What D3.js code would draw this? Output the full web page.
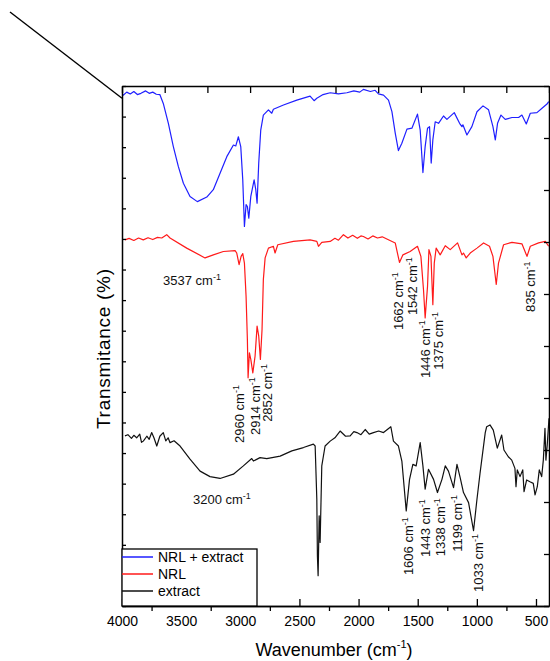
<!DOCTYPE html>
<html>
<head>
<meta charset="utf-8">
<script src="https://cdn.jsdelivr.net/npm/d3@7"></script>
<style>
  body { margin: 0; background: #fff; }
  svg { display: block; font-family: Arial, "Liberation Sans", sans-serif; }
</style>
</head>
<body>
<svg id="chart" width="550" height="661"></svg>
<script>
// FTIR spectra, [wavenumber cm-1, transmittance (offset, arbitrary units)]
const nrlExtract = [
  [4000, 16.74], [3990, 16.70], [3960, 16.80], [3930, 16.74], [3900, 16.82], [3870, 16.72],
  [3840, 16.76], [3800, 16.84], [3770, 16.76], [3740, 16.80], [3710, 16.73], [3680, 16.72],
  [3651, 16.43], [3608, 15.78], [3566, 15.02], [3524, 14.37], [3481, 13.82], [3425, 13.39],
  [3363, 13.22], [3283, 13.37], [3228, 13.61], [3171, 14.15], [3114, 14.69], [3058, 15.07],
  [3038, 15.04], [3016, 15.34], [2996, 15.02], [2979, 13.93], [2965, 12.41], [2951, 13.12],
  [2940, 13.06], [2928, 12.68], [2911, 13.39], [2883, 13.93], [2869, 13.61], [2858, 13.17],
  [2844, 14.48], [2827, 15.56], [2805, 16.05], [2762, 16.22], [2734, 16.11], [2720, 16.24],
  [2635, 16.38], [2522, 16.54], [2410, 16.67], [2376, 16.52], [2353, 16.60], [2300, 16.72],
  [2240, 16.78], [2170, 16.74], [2099, 16.78], [2040, 16.84], [1990, 16.80], [1959, 16.89],
  [1900, 16.82], [1860, 16.86], [1832, 16.74], [1789, 16.70], [1747, 16.54], [1718, 16.16],
  [1690, 15.46], [1663, 14.89], [1634, 15.13], [1591, 15.59], [1549, 15.62], [1502, 16.08],
  [1479, 15.56], [1456, 14.17], [1437, 15.02], [1417, 15.62], [1400, 15.67], [1386, 14.48],
  [1372, 15.24], [1352, 15.83], [1324, 15.78], [1282, 16.02], [1253, 15.91], [1191, 16.13],
  [1146, 15.78], [1126, 15.67], [1118, 15.73], [1084, 15.40], [1042, 15.67], [999, 16.16],
  [948, 16.35], [901, 16.22], [864, 15.67], [844, 15.24], [825, 15.78], [796, 16.05],
  [760, 15.91], [703, 15.97], [647, 15.97], [619, 16.05], [582, 15.76], [548, 16.11],
  [492, 16.13], [449, 16.27], [407, 16.41], [393, 16.49]
];

const nrl = [
  [3975, 11.97], [3940, 12.02], [3900, 11.95], [3860, 12.03], [3820, 11.97], [3780, 12.04],
  [3740, 11.98], [3700, 12.05], [3664, 12.03], [3622, 12.14], [3594, 12.03], [3453, 11.70],
  [3298, 11.38], [3228, 11.48], [3143, 11.59], [3044, 11.62], [3030, 11.54], [3010, 11.16],
  [2993, 11.43], [2979, 11.52], [2965, 11.21], [2951, 10.12], [2940, 8.71], [2934, 7.46],
  [2923, 8.28], [2911, 8.06], [2894, 7.62], [2875, 8.17], [2858, 9.15], [2844, 8.82],
  [2830, 8.06], [2816, 9.04], [2805, 10.67], [2790, 11.38], [2762, 11.70], [2720, 11.76],
  [2706, 11.54], [2683, 11.81], [2551, 11.92], [2410, 11.97], [2353, 11.92], [2339, 11.76],
  [2311, 11.89], [2240, 11.92], [2200, 12.02], [2170, 11.96], [2128, 12.14], [2090, 12.03],
  [2050, 12.12], [2010, 12.02], [1980, 12.10], [1959, 12.08], [1920, 12.00], [1880, 12.10],
  [1840, 12.03], [1800, 12.07], [1761, 12.00], [1690, 11.87], [1654, 11.23], [1625, 11.48],
  [1564, 11.59], [1502, 11.76], [1473, 11.43], [1451, 10.34], [1437, 9.42], [1417, 10.45],
  [1405, 11.65], [1388, 11.43], [1372, 9.85], [1360, 11.21], [1344, 11.70], [1310, 11.48],
  [1267, 11.78], [1225, 11.65], [1163, 11.87], [1126, 11.48], [1113, 11.54], [1090, 11.38],
  [1056, 11.54], [999, 11.70], [943, 11.87], [893, 11.76], [864, 11.43], [836, 10.51],
  [817, 11.21], [774, 11.81], [703, 11.89], [619, 11.84], [576, 11.43], [548, 11.76],
  [478, 11.87], [421, 11.92], [393, 11.76]
];

const extract = [
  [3975, 5.56], [3950, 5.60], [3920, 5.48], [3900, 5.58], [3876, 5.50], [3850, 5.62],
  [3835, 5.35], [3820, 5.39], [3790, 5.55], [3770, 5.45], [3749, 5.67], [3730, 5.50],
  [3706, 5.23], [3680, 5.55], [3651, 5.67], [3630, 5.40], [3610, 5.50], [3594, 5.34],
  [3560, 5.40], [3509, 5.23], [3425, 4.80], [3340, 4.41], [3256, 4.23], [3171, 4.17],
  [3058, 4.31], [2974, 4.58], [2903, 4.82], [2889, 4.74], [2833, 4.85], [2776, 4.82],
  [2663, 4.90], [2564, 5.07], [2466, 5.18], [2382, 5.29], [2367, 5.23], [2353, 3.49],
  [2348, 1.64], [2342, 0.99], [2333, 2.95], [2325, 2.08], [2311, 4.58], [2283, 5.23],
  [2240, 5.39], [2200, 5.50], [2156, 5.72], [2110, 5.55], [2071, 5.56], [2040, 5.70],
  [2014, 5.67], [1980, 5.60], [1944, 5.77], [1910, 5.62], [1874, 5.67], [1830, 5.72],
  [1789, 5.67], [1727, 5.86], [1705, 5.39], [1663, 5.23], [1634, 4.74], [1597, 3.11],
  [1569, 4.14], [1541, 4.63], [1513, 4.58], [1479, 5.34], [1456, 4.58], [1437, 3.82],
  [1409, 4.47], [1366, 4.14], [1333, 3.71], [1295, 4.14], [1267, 4.58], [1240, 4.41],
  [1197, 3.87], [1168, 4.63], [1141, 4.20], [1113, 3.71], [1070, 3.38], [1028, 2.46],
  [999, 3.49], [973, 4.34], [929, 5.67], [917, 5.86], [889, 5.92], [861, 5.75],
  [827, 5.16], [790, 5.59], [771, 5.10], [734, 4.88], [705, 4.77], [678, 4.50],
  [669, 3.90], [658, 4.45], [635, 4.23], [612, 4.45], [601, 3.74], [579, 4.12],
  [551, 4.06], [523, 4.01], [508, 3.63], [489, 3.90], [472, 4.45], [452, 4.23],
  [438, 4.77], [424, 5.81], [416, 4.77], [405, 5.26], [390, 6.14]
];

const seriesNames = ["NRL + extract", "NRL", "extract"];
const seriesColors = ["#1f1fff", "#ff1a1a", "#111111"];
const xTicks = [4000, 3500, 3000, 2500, 2000, 1500, 1000, 500];
const xMinorTicks = [3750, 3250, 2750, 2250, 1750, 1250, 750];

// peak labels: [text, wavenumber, transmittance] of the text start
const vLabels = [
  ["2960", 2969, 5.33], ["2914", 2833, 5.59], ["2852", 2732, 6.02],
  ["1662", 1624, 9.02], ["1542", 1506, 9.51], ["1446", 1396, 7.45],
  ["1375", 1286, 7.72], ["835", 508, 9.61],
  ["1606", 1540, 1.01], ["1443", 1396, 1.60], ["1338", 1269, 1.63],
  ["1199", 1126, 1.77], ["1033", 948, 0.46]
];
const hLabels = [["3537", 3653, 10.49], ["3200", 3400, 3.33]];

const svg = d3.select("#chart");
const margin = { left: 122, top: 86, right: 549, bottom: 606 };

const x = d3.scaleLinear().domain([4000, 390]).range([margin.left, margin.right]);
const y = d3.scaleLinear().domain([0, 17]).range([margin.bottom, margin.top]);

svg.append("defs").append("clipPath").attr("id", "plot")
  .append("rect")
  .attr("x", margin.left).attr("y", margin.top)
  .attr("width", margin.right - margin.left).attr("height", margin.bottom - margin.top);

// stray leader line from the original figure
svg.append("line")
  .attr("x1", 10).attr("y1", 12)
  .attr("x2", margin.left).attr("y2", y(16.6))
  .attr("stroke", "#000").attr("stroke-width", 1.4);

const line = d3.line().x(d => x(d[0])).y(d => y(d[1]));

const curves = svg.append("g").attr("clip-path", "url(#plot)");
[nrlExtract, nrl, extract].forEach((s, i) => {
  curves.append("path")
    .datum(s)
    .attr("d", line)
    .attr("fill", "none")
    .attr("stroke", seriesColors[i])
    .attr("stroke-width", 1.2)
    .attr("stroke-linejoin", "round");
});

// axes
const styleAxis = g => {
  g.select(".domain").attr("stroke", "#000").attr("stroke-width", 1.5);
  g.selectAll(".tick line").attr("stroke", "#000").attr("stroke-width", 1.3);
};

svg.append("g")
  .attr("transform", `translate(0,${margin.bottom})`)
  .call(d3.axisBottom(x).tickValues(xMinorTicks).tickSizeInner(5).tickSizeOuter(0).tickFormat(""))
  .call(styleAxis);

svg.append("g")
  .attr("transform", `translate(0,${margin.bottom})`)
  .call(d3.axisBottom(x).tickValues(xTicks).tickSizeInner(-7).tickSizeOuter(0)
    .tickPadding(10).tickFormat(d3.format("d")))
  .call(styleAxis)
  .call(g => g.selectAll(".tick text").attr("font-size", 14).attr("fill", "#000")
    .attr("font-family", "Arial, 'Liberation Sans', sans-serif"));

const top10 = d3.scaleLinear().domain([0, 10]).range([margin.left, margin.right]);
svg.append("g")
  .attr("transform", `translate(0,${margin.top})`)
  .call(d3.axisTop(top10).ticks(10).tickSizeInner(-7).tickSizeOuter(0).tickFormat(""))
  .call(styleAxis);

svg.append("g")
  .attr("transform", `translate(${margin.left},0)`)
  .call(d3.axisLeft(y).ticks(17).tickSizeInner(-4).tickSizeOuter(0).tickFormat(""))
  .call(styleAxis);

const right10 = d3.scaleLinear().domain([0, 10]).range([margin.bottom, margin.top]);
svg.append("g")
  .attr("transform", `translate(${margin.right},0)`)
  .call(d3.axisRight(right10).ticks(10).tickSizeInner(-5).tickSizeOuter(0).tickFormat(""))
  .call(styleAxis);

// axis titles
const xt = svg.append("text")
  .attr("x", 334).attr("y", 656)
  .attr("text-anchor", "middle").attr("font-size", 18).attr("fill", "#000");
xt.append("tspan").text("Wavenumber (cm");
xt.append("tspan").attr("font-size", 11).attr("dy", -8).text("-1");
xt.append("tspan").attr("dy", 8).text(")");

svg.append("text")
  .attr("transform", "translate(110,349) rotate(-90)")
  .attr("text-anchor", "middle").attr("font-size", 19).attr("fill", "#000")
  .attr("textLength", 160).attr("lengthAdjust", "spacing")
  .text("Transmitance (%)");

// peak labels
const labelText = (sel, d) => {
  sel.append("tspan").text(d[0] + " cm");
  sel.append("tspan").attr("font-size", 9).attr("dy", -5).text("-1");
};

vLabels.forEach(d => {
  svg.append("text")
    .attr("transform", `translate(${x(d[1])},${y(d[2])}) rotate(-90)`)
    .attr("font-size", 13).attr("fill", "#111")
    .call(labelText, d);
});

hLabels.forEach(d => {
  svg.append("text")
    .attr("x", x(d[1])).attr("y", y(d[2]))
    .attr("font-size", 13).attr("fill", "#111")
    .call(labelText, d);
});

// legend
const lg = svg.append("g");
lg.append("rect")
  .attr("x", margin.left).attr("y", 549)
  .attr("width", 257 - margin.left).attr("height", margin.bottom - 549)
  .attr("fill", "#fff").attr("stroke", "#000").attr("stroke-width", 1.3);
seriesNames.forEach((name, i) => {
  const ly = 557 + i * 17;
  lg.append("line")
    .attr("x1", margin.left).attr("x2", 153).attr("y1", ly).attr("y2", ly)
    .attr("stroke", seriesColors[i]).attr("stroke-width", 1.5);
  lg.append("text")
    .attr("x", 158).attr("y", ly + 5)
    .attr("font-size", 14).attr("fill", "#000")
    .text(name);
});
</script>
</body>
</html>
